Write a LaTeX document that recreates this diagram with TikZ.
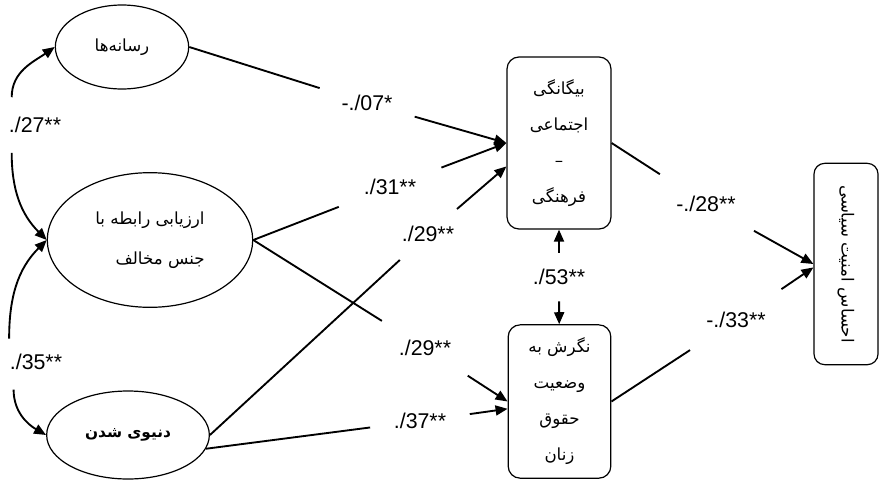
\documentclass[tikz,border=0pt]{standalone}
\usepackage{fontspec}
\setmainfont{Liberation Sans}
\newfontfamily\persianfont[Script=Arabic]{DejaVu Sans}
\TeXXeTstate=1
\usetikzlibrary{shapes.geometric,arrows.meta}

\begin{document}
\begin{tikzpicture}[x=0.75pt,y=0.75pt,
    latent/.style ={ellipse, draw, line width=0.9pt, inner sep=0pt, font=\persianfont\fontsize{12.5}{30}\selectfont},
    measured/.style ={rectangle, draw, rounded corners=9pt, line width=0.9pt, inner sep=0pt, align=center, font=\persianfont\fontsize{12.5}{27}\selectfont},
    coef/.style ={circle, inner sep=0pt, font=\fontsize{16}{19}\selectfont},
    effect/.style ={-{Triangle[length=9pt,width=7.5pt]}, line width=1.4pt},
    link/.style ={line width=1.4pt}]
   \useasboundingbox (0,0) rectangle (880,480);

   % latent variables
   \node[latent, minimum width=100pt, minimum height=63pt] (media) at (122,433) {\beginR رسانه‌ها\endR};
   \node[latent, minimum width=154pt, minimum height=101pt, align=right] (gender) at (150,240) {\beginR ارزیابی رابطه با\endR\\\beginR جنس مخالف\endR};
   \node[latent, minimum width=122pt, minimum height=66pt, font=\persianfont\bfseries\fontsize{11.5}{12}\selectfont] (secular) at (128,45) {\beginR دنیوی شدن\endR};

   \node[measured, minimum width=78pt, minimum height=129pt] (alien) at (559,337) {\beginR بیگانگی\endR\\\beginR اجتماعی\endR\\–\\\beginR فرهنگی\endR};
   \node[measured, minimum width=77pt, minimum height=115pt] (rights) at (559.5,78.5) {\beginR نگرش به\endR\\\beginR وضعیت\endR\\\beginR حقوق\endR\\\beginR زنان\endR};
   \node[measured, minimum width=48pt, minimum height=151pt, rounded corners=8pt] (security) at (846,216) {\rotatebox{-90}{\beginR احساس امنیت سیاسی\endR}};

   % coefficients
   \node[coef, minimum size=54pt] (c27) at (35,355) {./27**};
   \node[coef, minimum size=53pt] (c35) at (36,118) {./35**};
   \node[coef, minimum size=74pt] (c07) at (367,377) {-./07*};
   \node[coef, minimum size=82pt] (c31) at (390,293) {./31**};
   \node[coef, minimum size=57pt] (c29a) at (428,246) {./29**};
   \node[coef, minimum size=76pt] (c29b) at (425,132) {./29**};
   \node[coef, minimum size=75pt] (c37) at (420,59) {./37**};
   \node[coef, minimum size=82pt] (c28) at (706,276) {-./28**};
   \node[coef, minimum size=82pt] (c33) at (736,160) {-./33**};
   \node[coef, rectangle, minimum height=36pt] (c53) at (559,203) {./53**};

   % correlations
   \draw[effect] (c27.130) to[out=90, in=215] (media.west);
   \draw[effect] (c27.230) to[out=-90, in=135] (gender.west);
   \draw[effect] (c35.139) to[out=90, in=225] (gender.west);
   \draw[effect] (c35.231) to[out=-90, in=150] (secular.west);
   \draw[effect] (c53) to (alien);
   \draw[effect] (c53) to (rights);

   \draw[link] (media.east) to (c07);
   \draw[effect] (c07) to (alien.west);
   \draw[link] (gender.east) to (c31);
   \draw[effect] (c31) to (alien.west);
   \draw[link] (secular.east) to (c29a);
   \draw[effect] (c29a) to (alien.204);

   \draw[link] (gender.east) to (c29b);
   \draw[effect] (c29b) to (rights.west);
   \draw[link] (secular.-10) to (c37);
   \draw[effect] (c37) to (rights.188);

   \draw[link] (alien.east) to (c28);
   \draw[effect] (c28) to (security.west);
   \draw[link] (rights.east) to (c33);
   \draw[effect] (c33) to (security.186);
 \end{tikzpicture}
\end{document}
